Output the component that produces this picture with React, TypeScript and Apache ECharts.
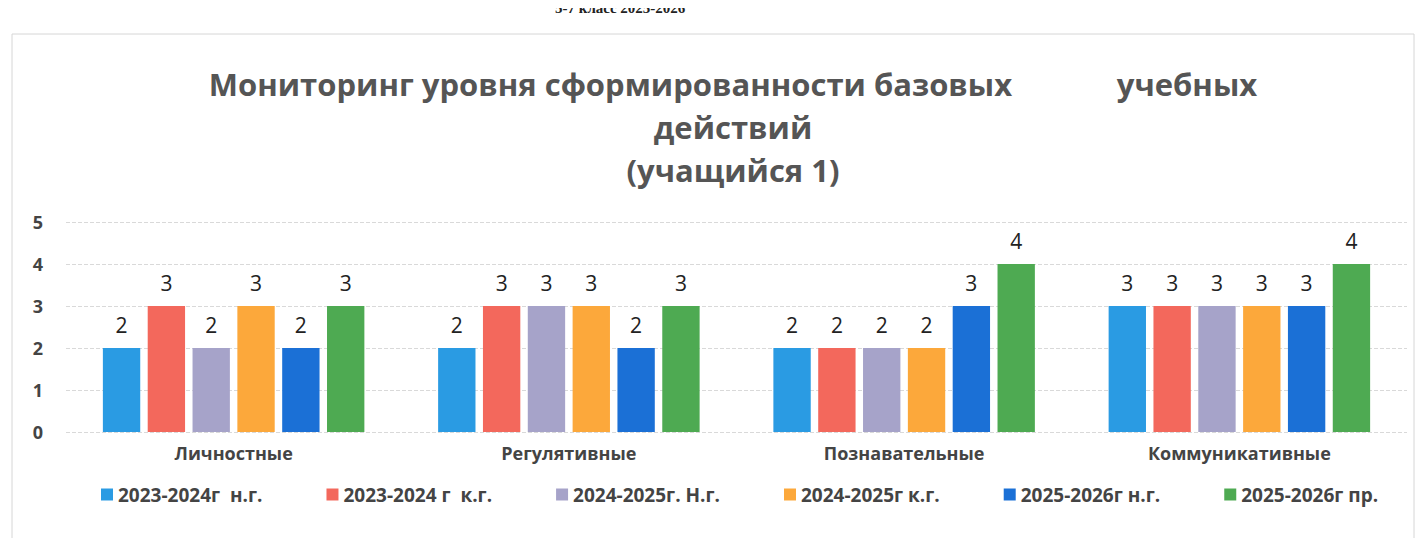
import React, { useEffect, useRef } from "react";
import * as echarts from "echarts";

const categories = ["Личностные", "Регулятивные", "Познавательные", "Коммуникативные"];
const seriesNames = [
  "2023-2024г  н.г.",
  "2023-2024 г  к.г.",
  "2024-2025г. Н.г.",
  "2024-2025г к.г.",
  "2025-2026г н.г.",
  "2025-2026г пр.",
];
const s1 = [2, 2, 2, 3];
const s2 = [3, 3, 2, 3];
const s3 = [2, 3, 2, 3];
const s4 = [3, 3, 2, 3];
const s5 = [2, 2, 3, 3];
const s6 = [3, 3, 4, 4];
const seriesValues = [s1, s2, s3, s4, s5, s6];
const colors = ["#2a9be3", "#f3685c", "#a6a3c9", "#fca83b", "#1b70d6", "#4eaa52"];
const yTicks = [0, 1, 2, 3, 4, 5];

export default function App() {
  const ref = useRef<HTMLDivElement>(null);
  useEffect(() => {
    if (!ref.current) return;
    const chart = echarts.init(ref.current, null, { renderer: "svg" });
    chart.setOption({
      animation: false,
      backgroundColor: "#ffffff",
      title: {
        text: "Мониторинг уровня сформированности базовых             учебных\nдействий\n(учащийся 1)",
        left: 728,
        top: 57,
        textAlign: "center",
        textStyle: {
          fontFamily: "Open Sans",
          fontWeight: "bold",
          fontSize: 31,
          lineHeight: 43,
          color: "#555555",
        },
      },
      graphic: [
        {
          type: "rect",
          shape: { x: 12, y: 34, width: 1402, height: 530 },
          style: { fill: "none", stroke: "#d6d6d6", lineWidth: 1 },
          silent: true,
        },
        {
          type: "text",
          left: 555,
          top: 0,
          style: {
            text: "5-7 класс 2025-2026",
            fontFamily: "Liberation Serif",
            fontWeight: "bold",
            fontSize: 15,
            fill: "#222",
          },
        },
      ],
      legend: {
        data: seriesNames,
        left: 96,
        top: 480,
        itemWidth: 12,
        itemHeight: 12,
        itemGap: 64,
        icon: "rect",
        textStyle: {
          fontFamily: "Open Sans",
          fontWeight: "bold",
          fontSize: 19,
          color: "#444444",
        },
      },
      grid: { left: 66, right: 18, top: 222, bottom: 114 },
      xAxis: {
        type: "category",
        data: categories,
        axisLine: { show: false },
        axisTick: { show: false },
        axisLabel: {
          margin: 12,
          fontFamily: "Open Sans",
          fontWeight: "bold",
          fontSize: 18,
          color: "#444444",
        },
      },
      yAxis: {
        type: "value",
        min: 0,
        max: 5,
        interval: 1,
        axisLine: { show: false },
        axisTick: { show: false },
        splitLine: { lineStyle: { color: "#d9d9d9", type: "dashed" } },
        axisLabel: {
          margin: 23,
          fontFamily: "Open Sans",
          fontWeight: "bold",
          fontSize: 18,
          color: "#444444",
          formatter: (v: number) => (yTicks.includes(v) ? String(v) : ""),
        },
      },
      series: seriesNames.map((name, i) => ({
        name,
        type: "bar",
        data: seriesValues[i],
        barCategoryGap: "22%",
        barGap: "20%",
        itemStyle: { color: colors[i] },
        label: {
          show: true,
          position: "top",
          distance: 13,
          fontFamily: "Open Sans",
          fontSize: 21,
          color: "#222222",
        },
      })),
    });
    return () => chart.dispose();
  }, []);
  return <div ref={ref} style={{ width: 1425, height: 546, margin: -8 }} />;
}
